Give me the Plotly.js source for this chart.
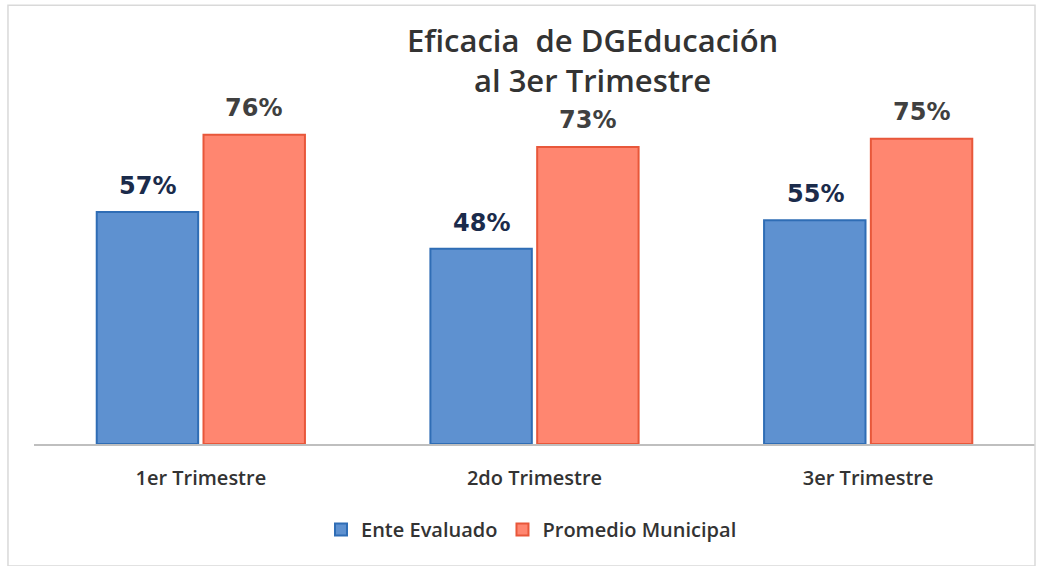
<!DOCTYPE html>
<html>
<head>
<meta charset="utf-8">
<script src="https://cdn.plot.ly/plotly-3.0.1.min.js"></script>
<style>html,body{margin:0;padding:0;background:#fff;}#chart{width:1047px;height:566px;}</style>
</head>
<body>
<div id="chart"></div>
<script>
const categories = ["1er Trimestre", "2do Trimestre", "3er Trimestre"];
const enteEvaluado = [57, 48, 55];
const promedioMunicipal = [76, 73, 75];
const seriesNames = ["Ente Evaluado", "Promedio Municipal"];

const traces = [
  {
    type: "bar", name: seriesNames[0], x: categories, y: enteEvaluado,
    marker: {color: "#5e91d0", line: {color: "#2f6db5", width: 2}},
    hoverinfo: "x+y"
  },
  {
    type: "bar", name: seriesNames[1], x: categories, y: promedioMunicipal,
    marker: {color: "#ff8670", line: {color: "#e8573a", width: 2}},
    hoverinfo: "x+y"
  }
];

const labelFont = "'DejaVu Sans', Verdana, sans-serif";
const annotations = [];
categories.forEach((c, i) => {
  annotations.push({x: c, y: enteEvaluado[i], xref: "x", yref: "y", text: enteEvaluado[i] + "%",
    showarrow: false, xshift: -53, yshift: 26, yanchor: "middle",
    font: {family: labelFont, size: 24, color: "#1b2b4b", weight: 700}});
  annotations.push({x: c, y: promedioMunicipal[i], xref: "x", yref: "y", text: promedioMunicipal[i] + "%",
    showarrow: false, xshift: 53, yshift: 27, yanchor: "middle",
    font: {family: labelFont, size: 24, color: "#404040", weight: 700}});
});

const textFont = "'Open Sans', Lato, sans-serif";
const layout = {
  width: 1047, height: 566,
  paper_bgcolor: "#ffffff", plot_bgcolor: "#ffffff",
  margin: {l: 34, r: 12, t: 37, b: 122},
  title: {text: "Eficacia  de DGEducación<br>al 3er Trimestre", x: 0.566, xanchor: "center", y: 0.908, yanchor: "top",
    font: {family: textFont, size: 31, color: "#333333", weight: 600}},
  barmode: "group", bargap: 0.36, bargroupgap: 0.05,
  xaxis: {showline: true, linecolor: "#bfbfbf", linewidth: 1.5, ticks: "", showgrid: false,
    ticklabelstandoff: 15,
    tickfont: {family: textFont, size: 20, color: "#333333", weight: 600}},
  yaxis: {range: [0, 100], visible: false, showgrid: false, zeroline: false},
  legend: {orientation: "h", x: 0.497, xanchor: "center", y: -0.21, yanchor: "middle",
    font: {family: textFont, size: 20, color: "#333333", weight: 600}, traceorder: "normal"},
  annotations: annotations,
  shapes: [{type: "rect", xref: "paper", yref: "paper", x0: -0.026, x1: 1.0, y0: -0.3, y1: 1.078,
    line: {color: "#d9d9d9", width: 1.5}, fillcolor: "rgba(0,0,0,0)"}],
  showlegend: true
};

Plotly.newPlot("chart", traces, layout, {displayModeBar: false, staticPlot: true});
</script>
</body>
</html>
